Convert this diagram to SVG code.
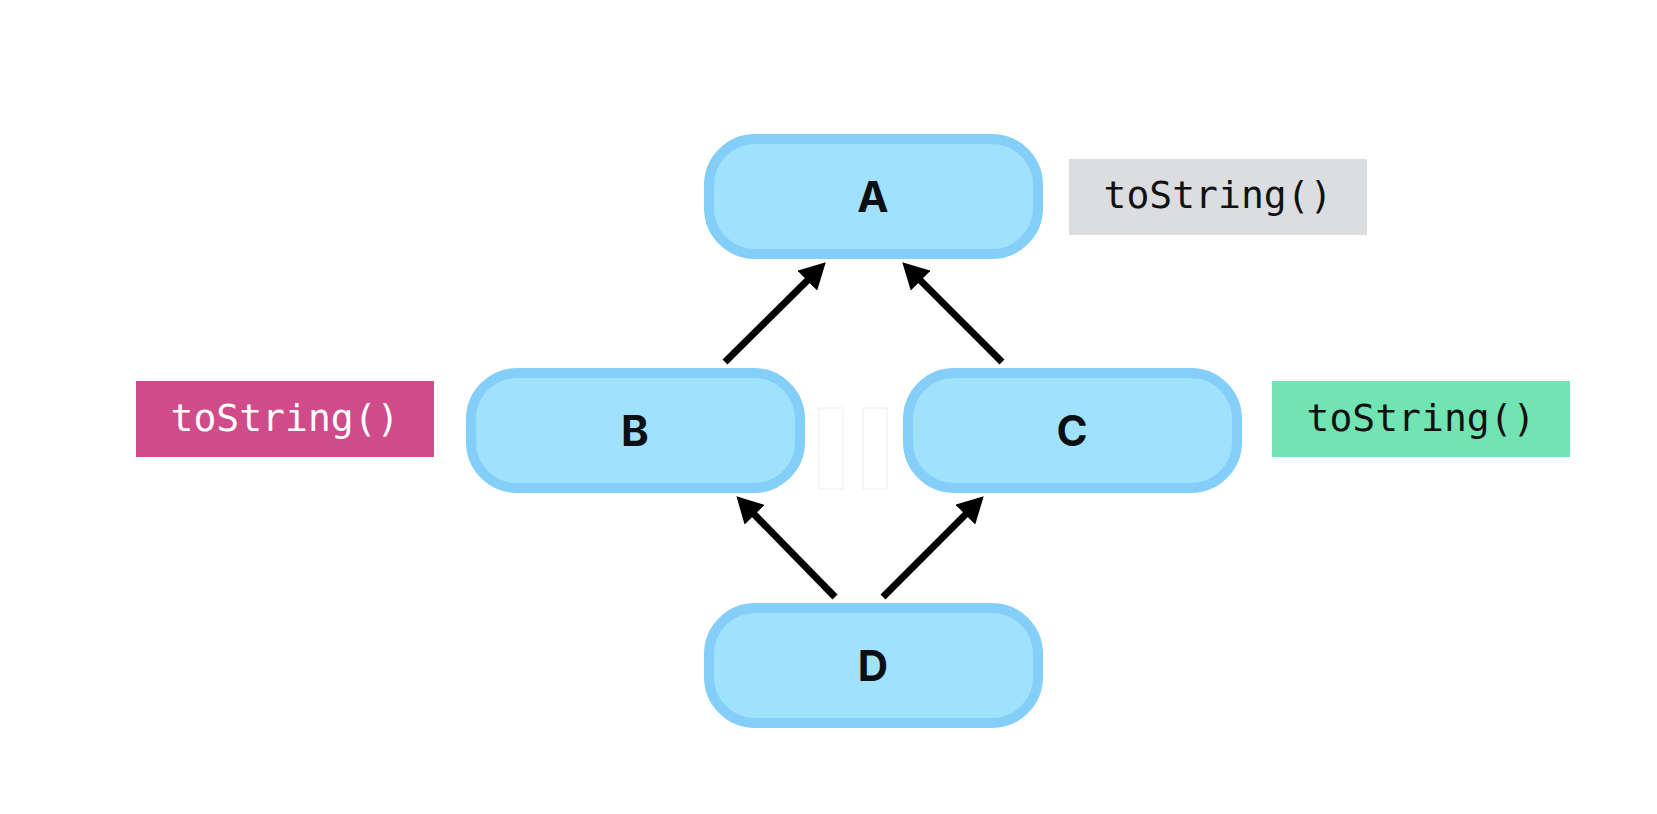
<svg xmlns="http://www.w3.org/2000/svg" width="1657" height="814" viewBox="0 0 1657 814">
<defs>
<style>
.node rect{fill:#a0e1fc;stroke:#84cffa;stroke-width:10}
.node text{font-family:Inter,"Open Sans",sans-serif;font-weight:700;font-size:42px;fill:#0a0f14;text-anchor:middle}
.lbl text{font-family:"DejaVu Sans Mono","Liberation Mono",monospace;font-size:38px;text-anchor:middle}
.edge{stroke:#000;stroke-width:7;fill:none;marker-end:url(#ah)}
.ghost{fill:#fff;stroke:#f3f3f3;stroke-width:1.5}
</style>
<marker id="ah" markerUnits="userSpaceOnUse" markerWidth="26" markerHeight="28" refX="10" refY="14" orient="auto">
<path d="M0,0 L26,14 L0,28 z" fill="#000"/>
</marker>
</defs>
<rect width="1657" height="814" fill="#fff"/>
<rect class="ghost" x="819" y="408" width="24" height="81"/>
<rect class="ghost" x="863" y="408" width="24" height="81"/>
<g id="node-A" class="node"><rect x="709" y="139" width="329" height="115" rx="46"/><text x="873" y="212">A</text></g>
<g id="node-B" class="node"><rect x="471" y="373" width="329" height="115" rx="46"/><text x="635" y="446">B</text></g>
<g id="node-C" class="node"><rect x="908" y="373" width="329" height="115" rx="46"/><text x="1072" y="446">C</text></g>
<g id="node-D" class="node"><rect x="709" y="608" width="329" height="115" rx="46"/><text x="873" y="681">D</text></g>
<g id="label-A" class="lbl"><rect x="1069" y="159" width="298" height="76" fill="#dcdde0"/><text x="1218" y="208" fill="#111">toString()</text></g>
<g id="label-B" class="lbl"><rect x="136" y="381" width="298" height="76" fill="#cf4b89"/><text x="285" y="431" fill="#fff">toString()</text></g>
<g id="label-C" class="lbl"><rect x="1272" y="381" width="298" height="76" fill="#72e3b2"/><text x="1421" y="431" fill="#111">toString()</text></g>
<g id="connectors">
<line class="edge" x1="725" y1="362" x2="814.4" y2="273.6"/>
<line class="edge" x1="1002" y1="362" x2="913.6" y2="273.6"/>
<line class="edge" x1="835" y1="597" x2="747.6" y2="507.6"/>
<line class="edge" x1="883" y1="597" x2="972.4" y2="507.6"/>
</g>
</svg>
